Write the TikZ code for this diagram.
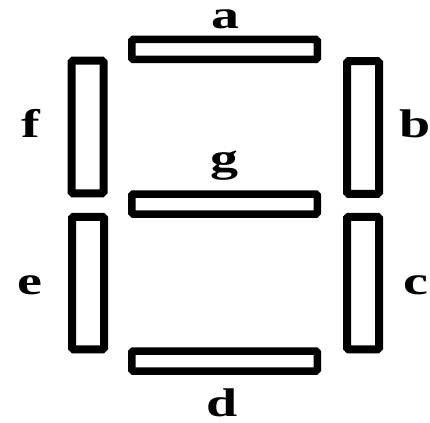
\documentclass[tikz,border=0pt]{standalone}
\usepackage{fontspec}
\usepackage{graphicx}
\setmainfont{Liberation Serif}

\begin{document}
\begin{tikzpicture}[x=1pt,y=-1pt]
    % --- MANUAL CONFIGURATION ---
    % 1. Segment sizes (long side, short side)
    \def\SegLong{185.5}
    \def\SegShort{20}
    \def\SegTall{132.5}
    \def\SegThin{32}

    % --- STYLES ---
    \tikzset{
        hSeg/.style={rectangle, draw=black, fill=white, line width=7.5pt, rounded corners=1.5pt, inner sep=0pt, minimum width=\SegLong pt, minimum height=\SegShort pt},
        vSeg/.style={rectangle, draw=black, fill=white, line width=8pt, rounded corners=1.5pt, inner sep=0pt, minimum width=\SegThin pt, minimum height=\SegTall pt},
        segLabel/.style={anchor=base, inner sep=0pt, font=\fontsize{40}{46}\selectfont\bfseries}
    }

    % fixed frame
    \useasboundingbox (0,0) rectangle (430,422);

    % --- SEGMENTS ---
    \node[hSeg] (a) at (224.5,49.5) {};
    \node[hSeg] (g) at (224.5,204) {};
    \node[hSeg] (d) at (224.5,361) {};
    \node[vSeg] (f) at (87.5,127) {};
    \node[vSeg] (e) at (88,283) {};
    \node[vSeg] (b) at (363,127.5) {};
    \node[vSeg] (c) at (363,283) {};

    % --- LABELS ---
    \node[segLabel] (la) at (225,29) {\scalebox{1.4}[1]{a}};
    \node[segLabel] (lg) at (224,171) {\scalebox{1.4}[1]{g}};
    \node[segLabel] (ld) at (222,416) {\scalebox{1.4}[1]{d}};
    \node[segLabel] (lf) at (31,138) {\scalebox{1.4}[1]{f}};
    \node[segLabel] (lb) at (415,138) {\scalebox{1.4}[1]{b}};
    \node[segLabel] (le) at (30,294) {\scalebox{1.4}[1]{e}};
    \node[segLabel] (lc) at (416,294) {\scalebox{1.4}[1]{c}};

\end{tikzpicture}
\end{document}
